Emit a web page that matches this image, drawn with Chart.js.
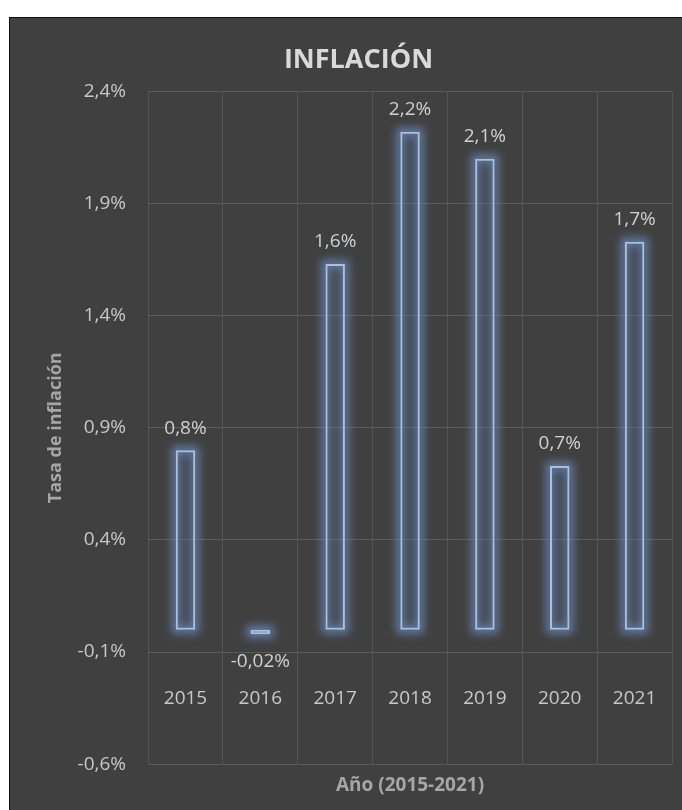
<!DOCTYPE html>
<html>
<head>
<meta charset="utf-8">
<script src="https://cdn.jsdelivr.net/npm/chart.js@4"></script>
<style>
  html, body { margin: 0; padding: 0; background: #fff; overflow: hidden; }
  #panel { position: absolute; left: 9px; top: 17px; width: 700px; height: 800px;
           background: #404040; border-top: 1px solid #111; border-left: 1px solid #111; }
  #chart { display: block; }
</style>
</head>
<body>
<div id="panel"><canvas id="chart" width="672" height="792"></canvas></div>
<script>
// datos
const years = ['2015', '2016', '2017', '2018', '2019', '2020', '2021'];
const inflation = [0.80, -0.02, 1.63, 2.22, 2.10, 0.73, 1.73];
const yTicks = [-0.6, -0.1, 0.4, 0.9, 1.4, 1.9, 2.4];

const pct = (v, d) => v.toFixed(d).replace('.', ',') + '%';

Chart.defaults.font.family = '"Open Sans", sans-serif';

// brillo alrededor de las barras
const glow = {
    id: 'glow',
    beforeDatasetsDraw(chart) {
        const ctx = chart.ctx;
        chart.getDatasetMeta(0).data.forEach(bar => {
            const {x, y, base, width} = bar.getProps(['x', 'y', 'base', 'width'], true);
            ctx.save();
            ctx.filter = 'blur(4px)';
            ctx.strokeStyle = 'rgba(120,165,230,0.6)';
            ctx.lineWidth = 8;
            ctx.strokeRect(x - width / 2, Math.min(y, base), width, Math.abs(base - y));
            ctx.restore();
        });
    }
};

// etiquetas de datos
const dataLabels = {
    id: 'dataLabels',
    afterDatasetsDraw(chart) {
        const ctx = chart.ctx;
        const values = chart.data.datasets[0].data;
        ctx.save();
        ctx.font = '19px "Open Sans", sans-serif';
        ctx.fillStyle = '#d0d0d0';
        ctx.textAlign = 'center';
        ctx.textBaseline = 'middle';
        chart.getDatasetMeta(0).data.forEach((bar, i) => {
            const v = values[i];
            const txt = pct(v, Math.abs(v) < 0.1 ? 2 : 1);
            ctx.fillText(txt, bar.x, v >= 0 ? bar.y - 22 : bar.y + 27);
        });
        ctx.restore();
    }
};

new Chart(document.getElementById('chart'), {
    type: 'bar',
    data: {
        labels: years,
        datasets: [{
            label: 'Inflación',
            data: inflation,
            backgroundColor: 'rgba(90,125,180,0.14)',
            borderColor: '#a9c0e0',
            borderWidth: 2,
            borderSkipped: false,
            barPercentage: 0.26,
            categoryPercentage: 1
        }]
    },
    options: {
        responsive: false,
        animation: false,
        layout: { padding: { left: 35, right: 10, top: 0, bottom: 0 } },
        scales: {
            y: {
                min: -0.6,
                max: 2.4,
                afterBuildTicks: s => { s.ticks = yTicks.map(v => ({ value: v })); },
                grid: { color: '#5a5a5a', drawTicks: false },
                border: { display: false },
                ticks: {
                    padding: 22,
                    color: '#c8c8c8',
                    font: { size: 19 },
                    callback: v => pct(v, 1)
                },
                title: {
                    display: true,
                    text: 'Tasa de inflación',
                    color: '#a6a6a6',
                    font: { size: 18, weight: 'bold' },
                    padding: { top: 0, bottom: -11 }
                }
            },
            x: {
                position: { y: -0.1 },
                grid: { color: '#555555', drawTicks: false, offset: true },
                border: { display: false },
                ticks: { padding: 35, color: '#c8c8c8', font: { size: 19 } },
                afterFit: s => { s.paddingLeft = 0; s.paddingRight = 0; }
            },
            x2: {
                type: 'category',
                position: 'bottom',
                grid: { display: false, drawTicks: false },
                border: { display: false },
                ticks: { display: false },
                title: {
                    display: true,
                    text: 'Año (2015-2021)',
                    color: '#a6a6a6',
                    font: { size: 19, weight: 'bold' },
                    padding: { top: 10, bottom: 13 }
                }
            }
        },
        plugins: {
            legend: { display: false },
            tooltip: { enabled: false },
            title: {
                display: true,
                text: 'INFLACIÓN',
                color: '#d9d9d9',
                font: { size: 27, weight: 'bold' },
                padding: { top: 26, bottom: 15 }
            }
        }
    },
    plugins: [glow, dataLabels]
});
</script>
</body>
</html>
